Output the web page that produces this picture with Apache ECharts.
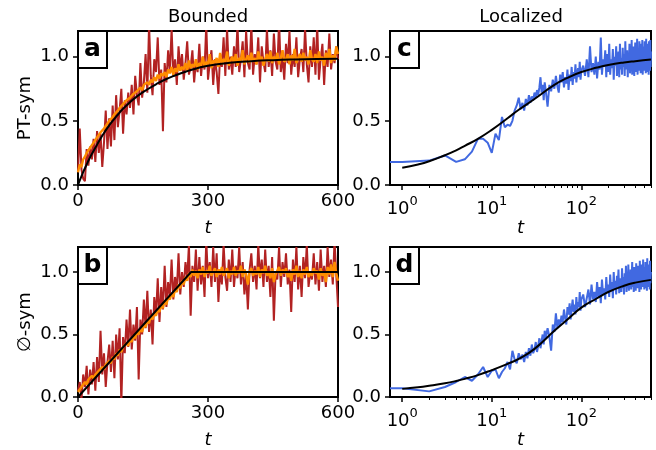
<!DOCTYPE html>
<html><head><meta charset="utf-8">
<script src="https://cdn.jsdelivr.net/npm/echarts@6/dist/echarts.min.js"></script>
<style>html,body{margin:0;padding:0;background:#fff}#c{width:656px;height:450px}</style>
</head><body><div id="c"></div>
<script>
// sample grids
const tBounded = []; for (let t = 0; t <= 600; t += 4) tBounded.push(t);
const tLocal = [0.73];
for (let t = 1; t <= 40; t++) tLocal.push(t);
for (let t = 42; t <= 100; t += 2) tLocal.push(t);
for (let t = 105; t <= 600; t += 5) tLocal.push(t);

const xTicksLin = [0, 300, 600];
const xTicksLog = [1, 10, 100];
const xMinorLog = [2,3,4,5,6,7,8,9,20,30,40,50,60,70,80,90,200,300,400,500,600];
const yTicks = [0, 0.5, 1.0];

// panel a (Bounded, PT-sym)
const redA = [
0.10,0.44,0.12,0.05,0.03,0.28,0.15,0.30,0.20,0.36,
0.18,0.42,0.25,0.40,0.14,0.33,0.58,0.28,0.52,0.30,
0.62,0.35,0.70,0.45,0.58,0.75,0.40,0.66,0.55,0.72,
0.60,0.78,0.55,0.85,0.70,0.62,0.95,0.68,0.80,1.02,
0.72,1.25,0.85,0.70,0.98,0.88,1.15,0.78,0.90,0.42,
0.95,0.80,1.05,0.88,1.22,0.85,0.98,0.78,1.08,0.90,
1.02,0.82,0.95,1.12,0.86,0.92,1.05,0.80,0.96,0.88,
1.10,0.85,1.00,0.90,1.25,0.82,0.95,1.05,0.78,0.98,
0.88,0.71,1.02,0.92,1.15,0.85,1.22,0.90,1.00,0.86,
1.08,0.92,1.25,0.88,0.98,1.12,0.84,1.20,0.95,0.90,
1.25,0.86,1.02,0.94,1.15,0.80,1.08,0.96,0.88,1.22,
0.92,1.05,0.85,1.18,0.96,0.90,1.28,0.88,1.00,0.82,
1.10,0.95,1.20,0.86,1.02,0.92,1.15,0.84,0.98,1.06,
0.88,1.22,0.94,0.80,1.08,0.92,1.15,0.86,1.25,0.82,
0.98,1.10,0.78,1.05,0.92,1.18,0.90,1.02,0.95,1.08,
0.98];
const orangeA = [
0.10,0.16,0.14,0.20,0.22,0.25,0.24,0.29,0.30,0.33,
0.32,0.37,0.36,0.41,0.40,0.44,0.46,0.45,0.50,0.49,
0.53,0.55,0.54,0.58,0.60,0.59,0.63,0.62,0.66,0.65,
0.68,0.67,0.71,0.70,0.73,0.72,0.76,0.74,0.78,0.77,
0.80,0.78,0.82,0.80,0.84,0.81,0.86,0.83,0.87,0.85,
0.88,0.84,0.90,0.87,0.92,0.86,0.91,0.88,0.94,0.89,
0.92,0.90,0.95,0.89,0.97,0.91,0.94,0.92,0.98,0.90,
0.95,0.93,1.00,0.92,0.96,0.94,1.02,0.91,0.97,0.95,
0.99,0.92,1.03,0.94,0.98,0.96,1.04,0.93,0.97,1.00,
0.95,1.02,0.93,0.99,0.97,1.05,0.94,0.98,1.01,0.95,
1.03,0.96,0.99,0.94,1.04,0.97,1.00,0.93,0.98,1.02,
0.96,1.04,0.95,1.00,0.97,1.03,0.94,0.99,1.05,0.96,
0.98,1.02,0.94,1.01,0.97,1.06,0.95,0.99,1.02,0.96,
1.03,0.97,1.00,0.94,1.05,0.98,0.96,1.02,0.95,1.04,
0.97,1.00,0.93,1.03,0.98,1.06,0.95,1.01,0.97,1.08,
1.02];
const blackAt = [0,10,20,30,40,50,60,70,80,90,100,120,140,160,180,200,225,250,275,300,350,400,450,500,550,600];
const blackAv = [0,0.085,0.16,0.23,0.29,0.35,0.405,0.455,0.50,0.54,0.58,0.645,0.70,0.745,0.785,0.82,0.855,0.885,0.91,0.93,0.952,0.965,0.973,0.978,0.981,0.983];

// panel b (Bounded, empty-set-sym)
const redB = [
0.05,0.12,-0.02,0.18,0.08,0.25,0.02,0.22,0.10,0.28,
0.05,0.32,0.12,0.53,0.18,0.35,0.08,0.28,0.42,0.20,
0.45,0.15,0.50,0.30,0.55,-0.05,0.48,0.35,0.62,0.40,
0.70,0.38,0.58,0.45,0.72,0.14,0.62,0.50,0.78,0.55,
0.85,0.52,0.70,0.42,0.80,0.65,0.95,0.60,0.88,0.70,
1.05,0.72,0.92,0.80,1.10,0.78,0.96,0.85,1.15,0.82,
1.00,0.88,1.08,0.95,1.22,0.65,1.05,0.92,1.18,0.85,
1.12,0.90,1.05,0.80,1.25,0.95,1.08,0.88,1.20,0.92,
1.15,0.76,1.02,0.90,1.22,0.96,0.85,1.10,0.92,1.18,
0.88,1.05,0.95,1.20,0.90,1.08,0.82,0.98,0.70,1.02,
1.15,0.92,1.05,0.86,1.22,0.95,1.10,0.88,1.18,0.92,
1.05,0.80,1.12,0.61,1.00,0.94,1.20,0.88,1.08,0.96,
1.15,0.90,1.02,0.68,1.10,0.92,1.20,0.86,1.05,0.80,
1.12,0.95,1.22,0.88,1.00,0.94,1.15,0.90,1.08,0.85,
1.18,0.92,1.05,0.88,1.20,0.96,1.10,0.90,1.25,0.98,
0.72];
const orangeB = [
0.04,0.05,0.08,0.07,0.12,0.10,0.14,0.13,0.17,0.15,
0.18,0.17,0.21,0.20,0.24,0.22,0.26,0.25,0.29,0.27,
0.32,0.30,0.35,0.33,0.38,0.36,0.40,0.39,0.43,0.41,
0.46,0.44,0.49,0.47,0.52,0.50,0.55,0.52,0.58,0.56,
0.61,0.59,0.65,0.62,0.67,0.65,0.70,0.68,0.74,0.71,
0.77,0.74,0.80,0.78,0.83,0.80,0.86,0.84,0.90,0.87,
0.93,0.90,0.96,0.93,0.99,0.96,1.02,0.97,1.01,0.95,
1.02,0.98,1.04,0.96,1.01,0.99,1.05,0.97,1.00,1.03,
0.96,1.02,0.98,1.04,0.97,1.00,1.03,0.95,1.01,0.98,
1.04,0.97,1.01,0.99,1.05,0.96,1.02,0.98,0.90,1.00,
1.03,0.97,1.01,0.98,1.04,0.96,1.02,0.99,1.05,0.97,
1.00,0.95,1.03,0.92,0.98,1.01,1.04,0.97,1.02,0.99,
1.03,0.96,1.00,0.93,1.02,0.98,1.05,0.96,1.01,0.95,
1.02,0.98,1.04,0.96,1.00,0.97,1.03,0.99,1.01,0.94,
1.03,0.97,1.00,0.92,1.04,0.98,1.06,0.96,1.08,0.99,
0.93];
const blackBt = [0, 261, 600];
const blackBv = [0, 1, 1];

// panel c (Localized, PT-sym)
const blueC = [
0.18,
0.18,0.19,0.23,0.18,0.20,0.26,0.36,0.36,0.33,0.25,
0.40,0.35,0.53,0.45,0.47,0.46,0.50,0.58,0.62,0.68,
0.59,0.64,0.58,0.67,0.62,0.70,0.64,0.69,0.66,0.72,
0.68,0.74,0.70,0.76,0.84,0.72,0.78,0.66,0.80,0.74,
0.61,0.78,0.73,0.82,0.75,0.85,0.77,0.72,0.86,0.80,
0.88,0.76,0.84,0.79,0.90,0.74,0.86,0.81,0.92,0.78,
0.88,0.83,0.94,0.80,0.87,0.91,0.84,0.96,0.82,0.89,
0.93,0.85,0.98,0.84,1.08,0.88,0.95,0.86,1.00,0.83,
0.96,0.90,1.15,0.86,0.98,0.92,1.05,0.84,1.02,0.88,
1.10,0.86,0.98,0.91,1.06,0.82,1.00,0.93,1.08,0.85,
0.97,1.04,0.84,1.10,0.90,0.99,0.86,1.07,0.92,1.02,
0.85,1.12,0.90,0.98,1.05,0.84,1.01,0.94,1.10,0.87,
1.00,0.91,1.13,0.86,1.03,0.95,1.08,0.85,0.99,1.11,
0.88,1.02,0.93,1.14,0.86,1.00,1.06,0.89,1.12,0.90,
1.04,0.87,1.10,0.95,0.99,1.13,0.86,1.05,0.92,1.08,
0.89,1.12,0.95,1.02,0.87,1.14,0.93,1.06,0.88,1.10,
0.96,1.03,0.86,1.12,0.94,1.07,0.89,1.13,0.92,1.04];
const blackLt = [1,1.5,2,3,4,5,7,10,15,20,30,50,70,100,150,200,300,400,600];
const blackCv = [0.135,0.16,0.185,0.232,0.27,0.305,0.36,0.43,0.52,0.586,0.67,0.78,0.835,0.88,0.915,0.935,0.955,0.965,0.977];

// panel d (Localized, empty-set-sym)
const blueD = [
0.07,
0.07,0.045,0.08,0.12,0.16,0.13,0.18,0.24,0.16,0.21,
0.22,0.15,0.20,0.23,0.28,0.22,0.37,0.30,0.27,0.35,
0.30,0.34,0.28,0.36,0.31,0.39,0.33,0.42,0.35,0.38,
0.44,0.36,0.41,0.47,0.39,0.45,0.50,0.42,0.53,0.47,
0.55,0.48,0.37,0.58,0.52,0.67,0.55,0.62,0.57,0.65,
0.60,0.70,0.63,0.58,0.72,0.66,0.75,0.62,0.71,0.78,
0.68,0.74,0.66,0.80,0.70,0.76,0.72,0.84,0.69,0.78,
0.82,0.72,0.79,0.86,0.74,0.90,0.78,0.84,0.76,0.92,
0.80,0.88,0.75,0.94,0.82,0.87,0.78,0.96,0.84,0.90,
0.80,0.98,0.85,0.92,0.79,1.00,0.86,0.93,0.82,0.97,
0.88,1.02,0.83,0.95,0.90,0.84,1.03,0.87,0.96,0.82,
0.99,0.88,1.05,0.84,0.94,0.91,1.06,0.85,0.97,0.89,
1.02,0.86,0.95,1.08,0.88,0.99,0.84,1.04,0.90,0.96,
0.85,1.07,0.92,0.98,0.87,1.05,0.90,1.00,0.84,1.09,
0.91,0.97,0.86,1.06,0.93,1.01,0.88,1.10,0.89,0.99,
0.86,1.04,0.92,1.08,0.87,1.00,0.94,0.85,1.11,0.90,
0.98,0.88,1.06,0.93,1.02,0.86,1.09,0.91,0.97,1.00];
const blackDv = [0.065,0.078,0.09,0.11,0.128,0.145,0.175,0.215,0.265,0.305,0.385,0.53,0.62,0.715,0.79,0.84,0.89,0.915,0.937];

const FONT = 'DejaVu Sans';
const RED = '#b22222', ORANGE = '#ff8c00', BLUE = '#4169e1';

function zip(xs, ys) { return xs.map((x, i) => [x, ys[i]]); }

const gridBase = {show: true, borderColor: '#000', borderWidth: 2, backgroundColor: 'transparent'};
const grids = [
  Object.assign({left: 78, top: 31, width: 260, height: 154}, gridBase),
  Object.assign({left: 78, top: 247, width: 260, height: 155}, gridBase),
  Object.assign({left: 390, top: 31, width: 261, height: 154}, gridBase),
  Object.assign({left: 390, top: 247, width: 261, height: 155}, gridBase)
];

const tickStyle = {show: true, inside: false, length: 5, lineStyle: {color: '#000', width: 1.5}};
const labelStyle = {color: '#000', fontSize: 18, fontFamily: FONT};
const nameStyle = {color: '#000', fontSize: 18, fontFamily: FONT, fontStyle: 'italic'};

function linX(g) {
  return {type: 'value', gridIndex: g, position: 'bottom', min: 0, max: 600,
    axisLine: {show: false}, splitLine: {show: false},
    axisTick: Object.assign({customValues: xTicksLin}, tickStyle),
    axisLabel: Object.assign({customValues: xTicksLin, margin: 7}, labelStyle),
    name: 't', nameLocation: 'middle', nameGap: 34, nameTextStyle: nameStyle};
}
function logX(g) {
  return {type: 'log', logBase: 10, gridIndex: g, position: 'bottom', min: 0.73, max: 600,
    axisLine: {show: false}, splitLine: {show: false}, minorSplitLine: {show: false},
    axisTick: Object.assign({customValues: xTicksLog}, tickStyle),
    axisLabel: Object.assign({customValues: xTicksLog, margin: 7,
      formatter: v => '{b|10}{s|' + Math.round(Math.log10(v)) + '}',
      rich: {b: {fontSize: 18, fontFamily: FONT, color: '#000', padding: [8, 0, 0, 0]},
             s: {fontSize: 13, fontFamily: FONT, color: '#000', padding: [0, 0, 6, 0]}}}, labelStyle),
    name: 't', nameLocation: 'middle', nameGap: 34, nameTextStyle: nameStyle};
}
function logMinor(g) {
  return {type: 'log', logBase: 10, gridIndex: g, position: 'bottom', offset: 0, min: 0.73, max: 600,
    axisLine: {show: false}, splitLine: {show: false},
    axisTick: {show: true, inside: false, customValues: xMinorLog, length: 3, lineStyle: {color: '#000', width: 1}},
    axisLabel: {show: false}};
}
function yAx(g, name) {
  const o = {type: 'value', gridIndex: g, position: 'left', min: 0, max: 1.2,
    axisLine: {show: false}, splitLine: {show: false},
    axisTick: Object.assign({customValues: yTicks}, tickStyle),
    axisLabel: Object.assign({customValues: yTicks, margin: 9, formatter: v => v.toFixed(1)}, labelStyle)};
  if (name) {
    o.name = name; o.nameLocation = 'middle'; o.nameGap = 44;
    o.nameTextStyle = {color: '#000', fontSize: 18, fontFamily: FONT};
  }
  return o;
}

function line(xi, data, color, width, smooth) {
  return {type: 'line', xAxisIndex: xi, yAxisIndex: xi, data: data, symbol: 'none',
    smooth: smooth || false, clip: true, lineStyle: {color: color, width: width}, silent: true};
}

function labelBox(x, y, letter) {
  return [
    {type: 'rect', shape: {x: x, y: y, width: 29, height: 37}, style: {fill: '#fff', stroke: '#000', lineWidth: 2}, z: 100},
    {type: 'text', x: x + 14.5, y: y + 18.5, style: {text: letter, font: 'bold 25px "DejaVu Sans"', fill: '#000', align: 'center', verticalAlign: 'middle'}, z: 101}
  ];
}

const option = {
  animation: false,
  backgroundColor: '#fff',
  grid: grids,
  xAxis: [linX(0), linX(1), logX(2), logX(3), logMinor(2), logMinor(3)],
  yAxis: [yAx(0, 'PT-sym'), yAx(1, '\u2205-sym'), yAx(2), yAx(3)],
  series: [
    line(0, zip(tBounded, redA), RED, 2),
    line(0, zip(tBounded, orangeA), ORANGE, 2.4),
    line(0, zip(blackAt, blackAv), '#000', 2, true),
    line(1, zip(tBounded, redB), RED, 2),
    line(1, zip(tBounded, orangeB), ORANGE, 2.4),
    line(1, zip(blackBt, blackBv), '#000', 2),
    line(2, zip(tLocal, blueC), BLUE, 2),
    line(2, zip(blackLt, blackCv), '#000', 2, true),
    line(3, zip(tLocal, blueD), BLUE, 2),
    line(3, zip(blackLt, blackDv), '#000', 2, true)
  ],
  graphic: [].concat(
    labelBox(78, 31, 'a'), labelBox(78, 247, 'b'), labelBox(390, 31, 'c'), labelBox(390, 247, 'd'),
    [
      {type: 'text', x: 208, y: 17, style: {text: 'Bounded', font: '18px "DejaVu Sans"', fill: '#000', align: 'center', verticalAlign: 'middle'}, z: 100},
      {type: 'text', x: 521, y: 17, style: {text: 'Localized', font: '18px "DejaVu Sans"', fill: '#000', align: 'center', verticalAlign: 'middle'}, z: 100}
    ])
};

const chart = echarts.init(document.getElementById('c'), null, {renderer: 'canvas'});
chart.setOption(option);
</script></body></html>
